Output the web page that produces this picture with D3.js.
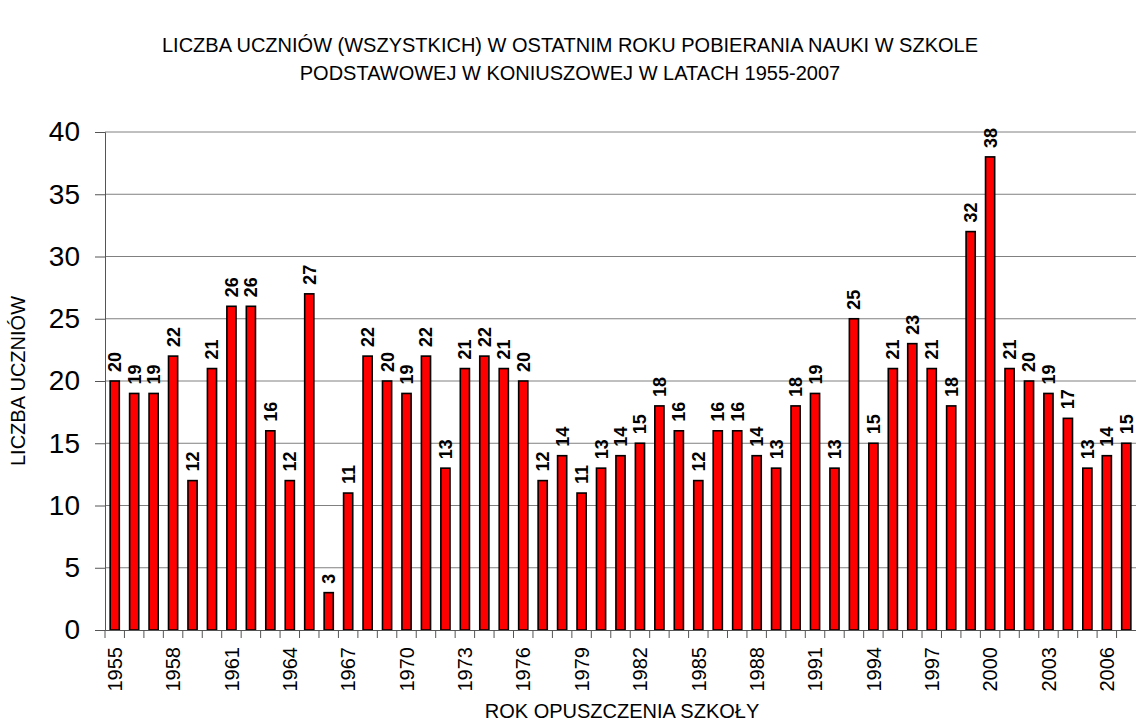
<!DOCTYPE html>
<html>
<head>
<meta charset="utf-8">
<script src="https://cdn.jsdelivr.net/npm/d3@7"></script>
<style>
  body { margin: 0; background: #fff; }
  svg { font-family: "Liberation Sans", Arial, sans-serif; }
</style>
</head>
<body>
<svg id="chart" width="1136" height="727"></svg>
<script>
const years = d3.range(1955, 2008).map(String)
const students = [20,19,19,22,12,21,26,26,16,12,27,3,11,22,20,19,22,13,21,22,21,20,
  12,14,11,13,14,15,18,16,12,16,16,14,13,18,19,13,25,15,21,23,21,18,32,38,21,20,19,17,13,14,15]
const yTicks = [0,5,10,15,20,25,30,35,40]
const titleLines = [
  "LICZBA UCZNIÓW (WSZYSTKICH) W OSTATNIM ROKU POBIERANIA NAUKI W SZKOLE",
  "PODSTAWOWEJ W KONIUSZOWEJ W LATACH 1955-2007"
]

const mLeft = 105, mRight = 1136, mTop = 132, mBottom = 630
const svg = d3.select('#chart')

let xScale = d3.scaleBand().domain(years).range([mLeft, mRight]).paddingInner(0.53).paddingOuter(0.265)
let xGrid = d3.scaleBand().domain(years).range([mLeft, mRight])
let yScale = d3.scaleLinear().domain([0, 40]).range([mBottom, mTop])

// title
svg.append('g').selectAll('text').data(titleLines).join('text')
  .attr('x', 570).attr('y', (d, i) => 52 + i * 28)
  .attr('text-anchor', 'middle').attr('font-size', 20).text(d => d)

// grid lines
svg.append('g').selectAll('line').data(yTicks.filter(d => d > 0)).join('line')
  .attr('x1', mLeft).attr('x2', mRight)
  .attr('y1', d => yScale(d)).attr('y2', d => yScale(d))
  .attr('stroke', '#808080').attr('stroke-width', 1)

// bars
svg.append('g').selectAll('rect').data(students).join('rect')
  .attr('x', (d, i) => xScale(years[i]))
  .attr('y', d => yScale(d))
  .attr('width', xScale.bandwidth())
  .attr('height', d => mBottom - yScale(d))
  .attr('fill', '#ff0000').attr('stroke', '#000').attr('stroke-width', 1.6)

// value labels
svg.append('g').selectAll('text').data(students).join('text')
  .attr('transform', (d, i) => `translate(${xScale(years[i]) + xScale.bandwidth() / 2},${yScale(d) - 9}) rotate(-90)`)
  .attr('dy', '0.36em').attr('font-size', 18).attr('font-weight', 'bold')
  .text(d => d)

// y axis
let yAxis = d3.axisLeft(yScale).tickValues(yTicks).tickSize(10).tickPadding(15)
let gy = svg.append('g').attr('transform', `translate(${mLeft},0)`).call(yAxis)
gy.selectAll('text').attr('font-size', 28).attr('font-family', '"Liberation Sans", Arial, sans-serif').attr('fill', '#000')
gy.selectAll('line, path').attr('stroke', '#555')

// x axis: ticks at category boundaries, labels every 3rd year
let xAxis = d3.axisBottom(xGrid).tickSize(0).tickFormat((d, i) => i % 3 === 0 ? d : '')
let gx = svg.append('g').attr('transform', `translate(0,${mBottom})`).call(xAxis)
gx.select('path').attr('stroke', '#555')
gx.selectAll('text')
  .attr('font-size', 20).attr('font-family', '"Liberation Sans", Arial, sans-serif').attr('fill', '#000')
  .attr('transform', 'rotate(-90)').attr('text-anchor', 'end')
  .attr('x', -17).attr('y', 0).attr('dy', '0.36em')
svg.append('g').selectAll('line').data(years).join('line')
  .attr('x1', d => xGrid(d)).attr('x2', d => xGrid(d))
  .attr('y1', mBottom).attr('y2', mBottom + 8)
  .attr('stroke', '#555')

// axis titles
svg.append('text').attr('x', 622).attr('y', 718).attr('text-anchor', 'middle')
  .attr('font-size', 20).text('ROK OPUSZCZENIA SZKOŁY')
svg.append('text').attr('transform', `translate(25,${(mTop + mBottom) / 2}) rotate(-90)`)
  .attr('text-anchor', 'middle').attr('font-size', 20).text('LICZBA UCZNIÓW')
</script>
</body>
</html>
